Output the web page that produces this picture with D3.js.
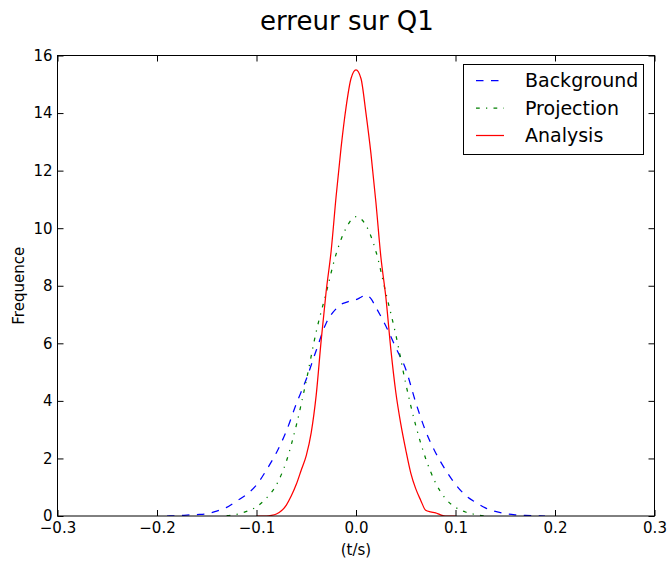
<!DOCTYPE html>
<html>
<head>
<meta charset="utf-8">
<script src="https://cdn.jsdelivr.net/npm/d3@7"></script>
<style>
  html, body { margin: 0; padding: 0; background: #fff; }
  text { font-family: "DejaVu Sans", sans-serif; fill: #000; }
</style>
</head>
<body>
<svg id="chart" width="670" height="565"></svg>
<script>
// ---- data ----
const title = "erreur sur Q1";
const xLabel = "(t/s)";
const yLabel = "Frequence";
const xTicks = [-0.3, -0.2, -0.1, 0.0, 0.1, 0.2, 0.3];
const yTicks = [0, 2, 4, 6, 8, 10, 12, 14, 16];

const backgroundX = [-0.19, -0.18, -0.17, -0.16, -0.15, -0.14, -0.13, -0.12, -0.11, -0.10, -0.09, -0.08, -0.07, -0.06, -0.05, -0.04, -0.03, -0.02, -0.015, -0.01, -0.005, 0.0, 0.005, 0.01, 0.015, 0.02, 0.03, 0.04, 0.05, 0.06, 0.07, 0.08, 0.09, 0.10, 0.11, 0.12, 0.13, 0.14, 0.15, 0.16, 0.17, 0.18, 0.19];
const backgroundY = [0.0, 0.01, 0.03, 0.05, 0.08, 0.17, 0.30, 0.52, 0.75, 1.08, 1.6, 2.2, 2.95, 3.9, 4.75, 5.75, 6.7, 7.2, 7.35, 7.42, 7.48, 7.52, 7.6, 7.68, 7.55, 7.25, 6.6, 5.85, 5.1, 3.95, 2.95, 2.2, 1.6, 1.1, 0.72, 0.48, 0.28, 0.16, 0.08, 0.04, 0.02, 0.01, 0.0];

const projectionX = [-0.13, -0.12, -0.11, -0.10, -0.09, -0.08, -0.07, -0.06, -0.05, -0.04, -0.03, -0.02, -0.01, 0.0, 0.01, 0.02, 0.03, 0.04, 0.05, 0.06, 0.07, 0.08, 0.09, 0.10, 0.11, 0.12, 0.13];
const projectionY = [0.01, 0.06, 0.16, 0.32, 0.62, 1.08, 1.9, 3.15, 4.7, 6.4, 7.75, 9.1, 10.0, 10.4, 10.1, 9.2, 7.75, 6.3, 4.6, 3.15, 2.0, 1.15, 0.6, 0.3, 0.14, 0.05, 0.0];

const analysisX = [-0.10, -0.09, -0.085, -0.08, -0.075, -0.07, -0.065, -0.06, -0.055, -0.05, -0.045, -0.04, -0.035, -0.03, -0.025, -0.02, -0.015, -0.01, -0.005, 0.0, 0.005, 0.01, 0.015, 0.02, 0.025, 0.03, 0.035, 0.04, 0.045, 0.05, 0.055, 0.06, 0.065, 0.07, 0.075, 0.08, 0.085, 0.09, 0.10];
const analysisY = [0.0, 0.0, 0.02, 0.07, 0.18, 0.38, 0.7, 1.1, 1.6, 2.1, 2.9, 4.2, 6.1, 7.8, 9.2, 11.1, 12.8, 14.2, 15.2, 15.5, 15.2, 14.0, 12.6, 10.9, 9.0, 7.6, 5.8, 4.3, 3.2, 2.3, 1.5, 0.95, 0.55, 0.2, 0.14, 0.11, 0.04, 0.0, 0.0];

const seriesNames = ["Background", "Projection", "Analysis"];
const seriesColors = ["#0000ff", "#008000", "#ff0000"];
const seriesDash = ["7.5,7.5", "3.75,6.25,1.25,6.25", null];

// ---- layout ----
const svg = d3.select("#chart");
const L = 57.5, R = 654.5, T = 55.5, B = 516;
const x = d3.scaleLinear().domain([-0.3, 0.3]).range([L, R]);
const y = d3.scaleLinear().domain([0, 16]).range([B, T]);

const seriesData = [
  d3.zip(backgroundX, backgroundY),
  d3.zip(projectionX, projectionY),
  d3.zip(analysisX, analysisY)
];

svg.append("clipPath").attr("id", "clip").append("rect")
  .attr("x", L).attr("y", T).attr("width", R - L).attr("height", B - T);

const line = d3.line().x(d => x(d[0])).y(d => y(d[1])).curve(d3.curveMonotoneX);

const g = svg.append("g").attr("clip-path", "url(#clip)");
seriesData.forEach((data, i) => {
  g.append("path")
    .datum(data)
    .attr("d", line)
    .attr("fill", "none")
    .attr("stroke", seriesColors[i])
    .attr("stroke-width", 1.25)
    .attr("stroke-dasharray", seriesDash[i]);
});

svg.append("rect").attr("x", L).attr("y", T).attr("width", R - L).attr("height", B - T)
  .attr("fill", "none").attr("stroke", "#000").attr("stroke-width", 1);

const fmtX = d => d3.format(".1f")(d).replace("-", "\u2212");
const xAxisB = d3.axisBottom(x).tickValues(xTicks).tickSizeInner(-6).tickSizeOuter(0).tickPadding(6).tickFormat(fmtX);
const xAxisT = d3.axisTop(x).tickValues(xTicks).tickSizeInner(-6).tickSizeOuter(0).tickFormat("");
const yAxisL = d3.axisLeft(y).tickValues(yTicks).tickSizeInner(-6).tickSizeOuter(0).tickPadding(5).tickFormat(d3.format("d"));
const yAxisR = d3.axisRight(y).tickValues(yTicks).tickSizeInner(-6).tickSizeOuter(0).tickFormat("");

function styleAxis(sel) {
  sel.select(".domain").remove();
  sel.selectAll("line").attr("stroke", "#000");
  sel.selectAll("text").style("font-family", "DejaVu Sans, sans-serif").style("font-size", "15px").attr("fill", "#000");
}
svg.append("g").attr("transform", `translate(0,${B})`).call(xAxisB).call(styleAxis);
svg.append("g").attr("transform", `translate(0,${T})`).call(xAxisT).call(styleAxis);
svg.append("g").attr("transform", `translate(${L},0)`).call(yAxisL).call(styleAxis);
svg.append("g").attr("transform", `translate(${R},0)`).call(yAxisR).call(styleAxis);

svg.append("text").attr("x", 347).attr("y", 30).attr("text-anchor", "middle")
  .style("font-size", "26px").text(title);
svg.append("text").attr("x", (L + R) / 2).attr("y", 555).attr("text-anchor", "middle")
  .style("font-size", "15px").text(xLabel);
svg.append("text").attr("transform", `translate(24,${(T + B) / 2}) rotate(-90)`).attr("text-anchor", "middle")
  .style("font-size", "15px").text(yLabel);

const lg = svg.append("g");
lg.append("rect").attr("x", 463.5).attr("y", 64.5).attr("width", 180).attr("height", 90)
  .attr("fill", "#fff").attr("stroke", "#000").attr("stroke-width", 1);
seriesNames.forEach((name, i) => {
  const yy = 80.5 + i * 27.5;
  lg.append("line").attr("x1", 476).attr("x2", 504).attr("y1", yy).attr("y2", yy)
    .attr("stroke", seriesColors[i]).attr("stroke-width", 1.25)
    .attr("stroke-dasharray", seriesDash[i]);
  lg.append("text").attr("x", 525).attr("y", yy + 6.5).style("font-size", "19px").text(name);
});
</script>
</body>
</html>
